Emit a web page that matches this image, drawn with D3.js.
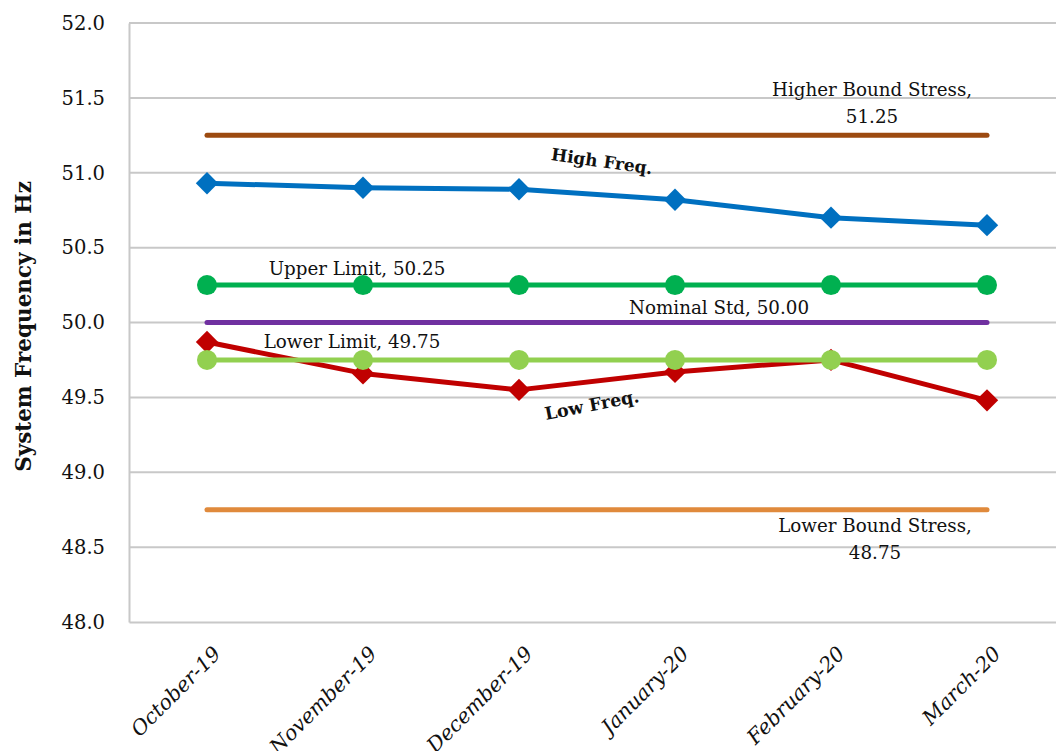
<!DOCTYPE html>
<html>
<head>
<meta charset="utf-8">
<script src="https://cdn.jsdelivr.net/npm/d3@7"></script>
<style>
  html, body { margin: 0; padding: 0; background: #fff; }
  svg { display: block; }
  text { font-family: "DejaVu Serif", "Liberation Serif", serif; fill: #111; }
</style>
</head>
<body>
<svg id="chart" width="1056" height="751"></svg>
<script>
// Monthly system frequency (Hz)
const months = ["October-19", "November-19", "December-19", "January-20", "February-20", "March-20"];
const highFreq = [50.93, 50.90, 50.89, 50.82, 50.70, 50.65];
const lowFreq  = [49.87, 49.66, 49.55, 49.67, 49.75, 49.48];
const higherBoundStress = [51.25, 51.25, 51.25, 51.25, 51.25, 51.25];
const upperLimit        = [50.25, 50.25, 50.25, 50.25, 50.25, 50.25];
const nominalStd        = [50.00, 50.00, 50.00, 50.00, 50.00, 50.00];
const lowerLimit        = [49.75, 49.75, 49.75, 49.75, 49.75, 49.75];
const lowerBoundStress  = [48.75, 48.75, 48.75, 48.75, 48.75, 48.75];
const yTicks = [48.0, 48.5, 49.0, 49.5, 50.0, 50.5, 51.0, 51.5, 52.0];

const svg = d3.select("#chart");
const plot = { left: 129, right: 1065, top: 23, bottom: 622 };

const x = d3.scaleBand().domain(months).range([plot.left, plot.right]);
const xc = m => x(m) + x.bandwidth() / 2;
const y = d3.scaleLinear().domain([48, 52]).range([plot.bottom, plot.top]);

// horizontal gridlines
svg.append("g").selectAll("line").data(yTicks.filter(t => t > 48)).join("line")
  .attr("x1", plot.left).attr("x2", plot.right)
  .attr("y1", d => y(d)).attr("y2", d => y(d))
  .attr("stroke", "#c8c8c8").attr("stroke-width", 2);

// y axis
const yAxis = svg.append("g").attr("transform", `translate(${plot.left},0)`)
  .call(d3.axisLeft(y).tickValues(yTicks).tickFormat(d3.format(".1f")).tickSize(0).tickPadding(24));
yAxis.select(".domain").attr("stroke", "#c8c8c8").attr("stroke-width", 2);
yAxis.selectAll("text").attr("font-size", 19.5).attr("fill", "#111")
  .style("font-family", "'DejaVu Serif', serif");

// x axis
const xAxis = svg.append("g").attr("transform", `translate(0,${plot.bottom})`)
  .call(d3.axisBottom(x).tickSize(0).tickFormat(""));
xAxis.select(".domain").attr("stroke", "#c8c8c8").attr("stroke-width", 2);
svg.append("g").selectAll("text").data(months).join("text")
  .attr("transform", d => `translate(${xc(d) + 10},${plot.bottom + 28}) rotate(-45)`)
  .attr("text-anchor", "end").attr("dy", "0.35em")
  .attr("font-size", 20.5).attr("font-style", "italic")
  .text(d => d);

// y axis title
svg.append("text")
  .attr("transform", `translate(31,${(plot.top + plot.bottom) / 2 + 4}) rotate(-90)`)
  .attr("text-anchor", "middle").attr("font-size", 21.5).attr("font-weight", "bold")
  .text("System Frequency in Hz");

const line = d3.line().x((d, i) => xc(months[i])).y(d => y(d));

function drawSeries(values, color, marker) {
  const g = svg.append("g");
  g.append("path").datum(values).attr("d", line)
    .attr("fill", "none").attr("stroke", color).attr("stroke-width", 5)
    .attr("stroke-linecap", "round").attr("stroke-linejoin", "round");
  if (marker === "circle") {
    g.selectAll("circle").data(values).join("circle")
      .attr("cx", (d, i) => xc(months[i])).attr("cy", d => y(d)).attr("r", 10)
      .attr("fill", color);
  } else if (marker === "diamond") {
    const sym = d3.symbol().type(d3.symbolSquare).size(250);
    g.selectAll("path.m").data(values).join("path").attr("class", "m")
      .attr("d", sym)
      .attr("transform", (d, i) => `translate(${xc(months[i])},${y(d)}) rotate(45)`)
      .attr("fill", color);
  }
}

drawSeries(higherBoundStress, "#9c4a10", null);
drawSeries(lowerBoundStress, "#e08a3c", null);
drawSeries(highFreq, "#0070c0", "diamond");
drawSeries(upperLimit, "#00b050", "circle");
drawSeries(nominalStd, "#7030a0", null);
drawSeries(lowFreq, "#c00000", "diamond");
drawSeries(lowerLimit, "#92d050", "circle");

// data labels
function label(txt, cx, cy, opts = {}) {
  const t = svg.append("text")
    .attr("text-anchor", "middle").attr("font-size", opts.size || 18.3)
    .attr("transform", `translate(${cx},${cy}) rotate(${opts.rot || 0})`);
  if (opts.bold) t.attr("font-weight", "bold");
  if (opts.italic) t.attr("font-style", "italic");
  const lines = Array.isArray(txt) ? txt : [txt];
  lines.forEach((l, i) => t.append("tspan").attr("x", 0).attr("dy", i === 0 ? 0 : 27).text(l));
  return t;
}

label(["Higher Bound Stress,", "51.25"], xc(months[4]) + 41, y(higherBoundStress[4]) - 39);
label(["Lower Bound Stress,", "48.75"], xc(months[4]) + 44, y(lowerBoundStress[4]) + 22);
label("Upper Limit, 50.25", xc(months[1]) - 6, y(upperLimit[1]) - 10);
label("Nominal Std, 50.00", xc(months[4]) - 112, y(nominalStd[4]) - 9);
label("Lower Limit, 49.75", xc(months[1]) - 11, y(lowerLimit[1]) - 12);
label("High Freq.", xc(months[2]) + 82, y(highFreq[2]) - 22, { bold: true, rot: 8, size: 17 });
label("Low Freq.", xc(months[2]) + 74, y(lowFreq[2]) + 21, { bold: true, rot: -11, size: 17.5 });
</script>
</body>
</html>
